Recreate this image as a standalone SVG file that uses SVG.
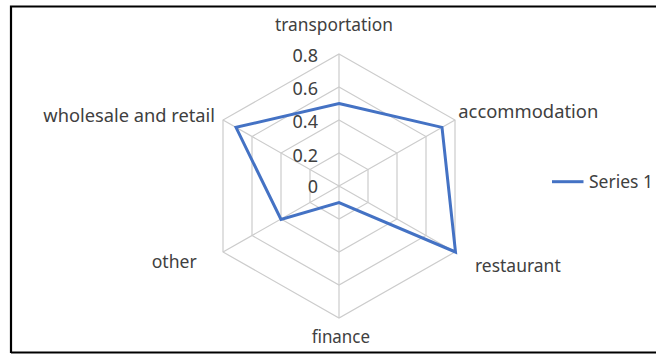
<svg xmlns="http://www.w3.org/2000/svg" width="656" height="354" viewBox="0 0 656 354">
<style>
.grid{fill:none;stroke:#cccccc;stroke-width:1.2}
.lbl{font-family:"Noto Sans","Open Sans",sans-serif;font-size:18px;fill:#404040}
.tick{font-family:"Noto Sans","Open Sans",sans-serif;font-size:18px;fill:#404040;text-anchor:end}
.series{fill:none;stroke:#4472C4;stroke-width:3;stroke-linejoin:miter}
</style>
<rect x="0" y="0" width="656" height="354" fill="#ffffff"/>
<path d="M11,353 V6.5 H656 M11,352.5 H656" fill="none" stroke="#000" stroke-width="2.2"/>
<g id="grid">
<polygon class="grid" points="339,54 455,120 455,252 339,318 223,252 223,120"/>
<polygon class="grid" points="339,87 426,136.5 426,235.5 339,285 252,235.5 252,136.5"/>
<polygon class="grid" points="339,120 397,153 397,219 339,252 281,219 281,153"/>
<polygon class="grid" points="339,153 368,169.5 368,202.5 339,219 310,202.5 310,169.5"/>
<path class="grid" d="M339,186 L339,54 M339,186 L455,120 M339,186 L455,252 M339,186 L339,318 M339,186 L223,252 M339,186 L223,120"/>
</g>
<g id="ticks">
<text class="tick" x="318" y="62">0.8</text>
<text class="tick" x="318" y="95">0.6</text>
<text class="tick" x="318" y="127.5">0.4</text>
<text class="tick" x="318" y="161.5">0.2</text>
<text class="tick" x="318" y="193">0</text>
</g>
<g id="axis-labels">
<text class="lbl" x="275" y="31" textLength="118" lengthAdjust="spacingAndGlyphs">transportation</text>
<text class="lbl" x="458.3" y="118" textLength="140" lengthAdjust="spacingAndGlyphs">accommodation</text>
<text class="lbl" x="475" y="271.5" textLength="85.7" lengthAdjust="spacingAndGlyphs">restaurant</text>
<text class="lbl" x="311.7" y="342.5" textLength="58.3" lengthAdjust="spacingAndGlyphs">finance</text>
<text class="lbl" x="151.7" y="268" textLength="45" lengthAdjust="spacingAndGlyphs">other</text>
<text class="lbl" x="43.3" y="121.5" textLength="171.7" lengthAdjust="spacingAndGlyphs">wholesale and retail</text>
</g>
<g id="series1">
<polygon class="series" points="339,103.5 442,127.4 455.5,252 339,202.5 281,219.5 236,127.4"/>
</g>
<g id="legend">
<line x1="552" y1="181.7" x2="583.5" y2="181.7" stroke="#4472C4" stroke-width="3"/>
<text class="lbl" x="589" y="187.5" textLength="64" lengthAdjust="spacingAndGlyphs">Series 1</text>
</g>
</svg>
